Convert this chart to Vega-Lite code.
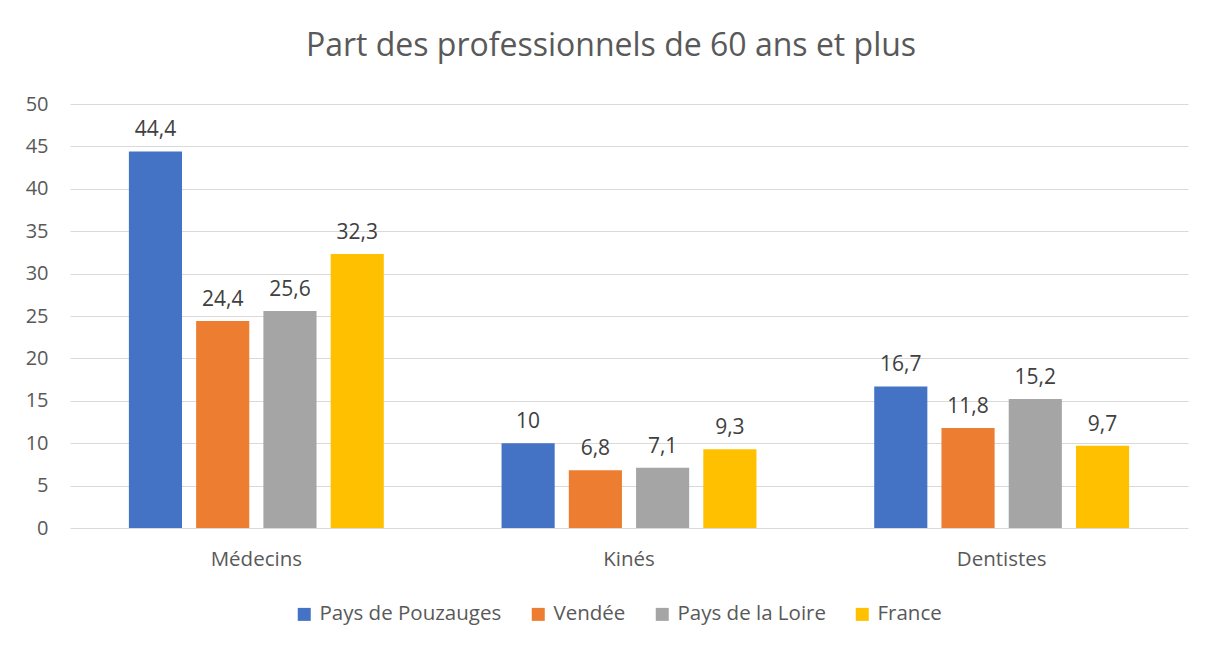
{
  "$schema": "https://vega.github.io/schema/vega-lite/v6.json",
  "autosize": {"type": "none"},
  "width": 1118,
  "height": 424,
  "padding": {"left": 70, "top": 104, "right": 24, "bottom": 120},
  "background": "white",
  "config": {
    "view": {"stroke": null},
    "font": "Open Sans",
    "locale": {"number": {"decimal": ",", "thousands": " ", "grouping": [3], "currency": ["", " €"]}}
  },
  "title": {
    "text": "Part des professionnels de 60 ans et plus",
    "fontSize": 32,
    "font": "Open Sans",
    "fontWeight": "normal",
    "color": "#595959",
    "anchor": "middle",
    "dx": -18,
    "offset": 31
  },
  "data": {
    "values": [
      {"groupe": "Médecins", "zone": "Pays de Pouzauges", "valeur": 44.4},
      {"groupe": "Médecins", "zone": "Vendée", "valeur": 24.4},
      {"groupe": "Médecins", "zone": "Pays de la Loire", "valeur": 25.6},
      {"groupe": "Médecins", "zone": "France", "valeur": 32.3},
      {"groupe": "Kinés", "zone": "Pays de Pouzauges", "valeur": 10},
      {"groupe": "Kinés", "zone": "Vendée", "valeur": 6.8},
      {"groupe": "Kinés", "zone": "Pays de la Loire", "valeur": 7.1},
      {"groupe": "Kinés", "zone": "France", "valeur": 9.3},
      {"groupe": "Dentistes", "zone": "Pays de Pouzauges", "valeur": 16.7},
      {"groupe": "Dentistes", "zone": "Vendée", "valeur": 11.8},
      {"groupe": "Dentistes", "zone": "Pays de la Loire", "valeur": 15.2},
      {"groupe": "Dentistes", "zone": "France", "valeur": 9.7}
    ]
  },
  "encoding": {
    "x": {
      "field": "groupe",
      "type": "nominal",
      "sort": ["Médecins", "Kinés", "Dentistes"],
      "scale": {"paddingInner": 0.316, "paddingOuter": 0.158},
      "axis": {
        "title": null,
        "labelAngle": 0,
        "labelFontSize": 20.5,
        "labelColor": "#595959",
        "labelPadding": 21,
        "ticks": false,
        "domain": false
      }
    },
    "xOffset": {
      "field": "zone",
      "type": "nominal",
      "sort": ["Pays de Pouzauges", "Vendée", "Pays de la Loire", "France"],
      "scale": {"paddingInner": 0.21, "paddingOuter": 0}
    },
    "y": {
      "field": "valeur",
      "type": "quantitative",
      "scale": {"domain": [0, 50]},
      "axis": {
        "title": null,
        "values": [0, 5, 10, 15, 20, 25, 30, 35, 40, 45, 50],
        "labelFontSize": 20,
        "labelColor": "#595959",
        "labelPadding": 22,
        "ticks": false,
        "domain": false,
        "grid": true,
        "gridColor": "#d9d9d9",
        "gridWidth": 1
      }
    }
  },
  "layer": [
    {
      "mark": {"type": "bar"},
      "encoding": {
        "color": {
          "field": "zone",
          "type": "nominal",
          "sort": ["Pays de Pouzauges", "Vendée", "Pays de la Loire", "France"],
          "scale": {
            "domain": ["Pays de Pouzauges", "Vendée", "Pays de la Loire", "France"],
            "range": ["#4472C4", "#ED7D31", "#A5A5A5", "#FFC000"]
          },
          "legend": {
            "title": null,
            "orient": "none",
            "direction": "horizontal",
            "legendX": 224,
            "legendY": 500,
            "symbolType": "square",
            "symbolSize": 169,
            "symbolStrokeWidth": 0,
            "labelFontSize": 20.5,
            "labelLimit": 400,
            "labelColor": "#595959",
            "columnPadding": 26,
            "labelOffset": 5
          }
        }
      }
    },
    {
      "mark": {"type": "text", "baseline": "bottom", "dy": -11, "fontSize": 21, "color": "#404040"},
      "encoding": {
        "text": {"field": "valeur", "type": "quantitative", "format": ".1~f"}
      }
    }
  ]
}
